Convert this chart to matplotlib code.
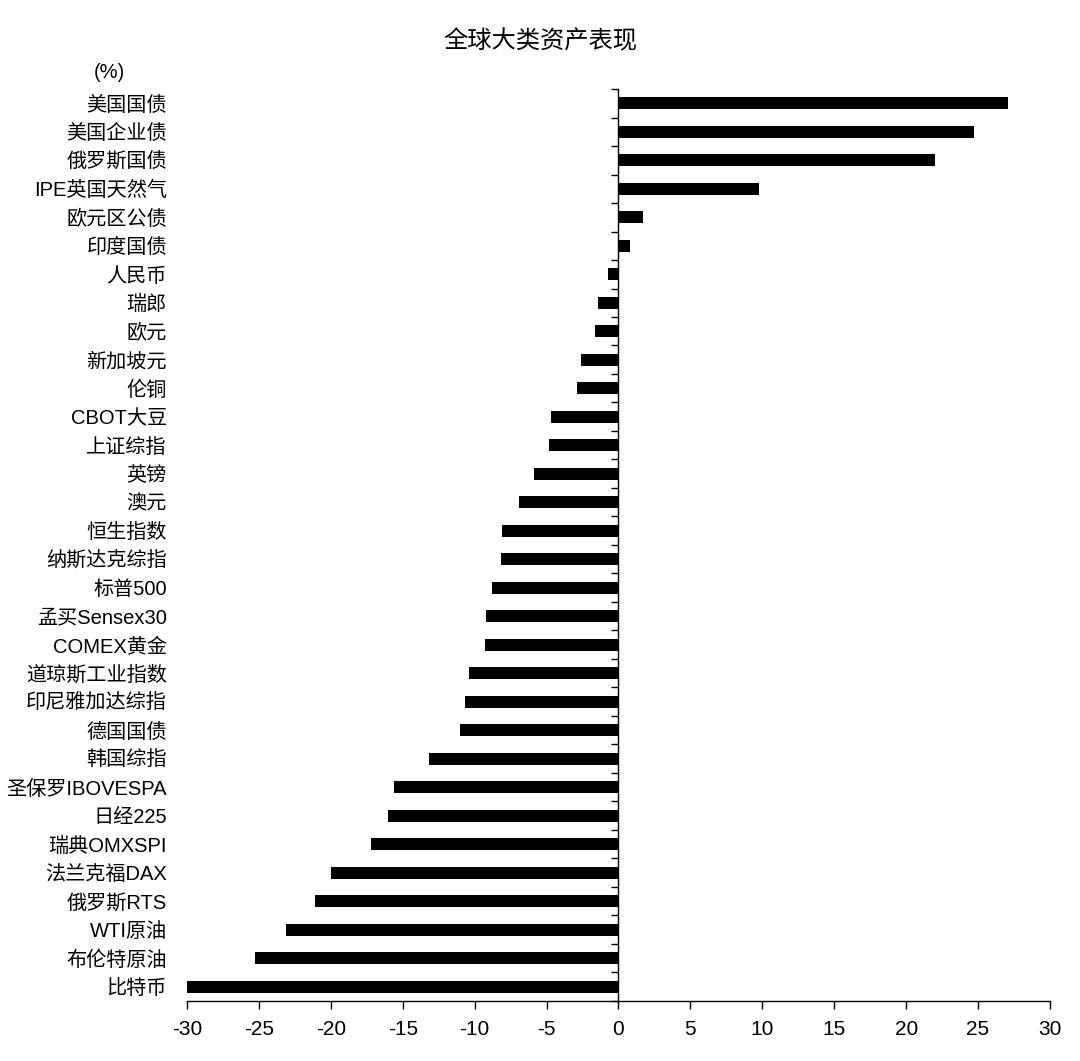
import numpy as np
import matplotlib
matplotlib.use('Agg')
import matplotlib.pyplot as plt

# asset names, top to bottom
assets = ['美国国债', '美国企业债', '俄罗斯国债', 'IPE英国天然气', '欧元区公债', '印度国债',
          '人民币', '瑞郎', '欧元', '新加坡元', '伦铜', 'CBOT大豆', '上证综指', '英镑', '澳元',
          '恒生指数', '纳斯达克综指', '标普500', '孟买Sensex30', 'COMEX黄金', '道琼斯工业指数',
          '印尼雅加达综指', '德国国债', '韩国综指', '圣保罗IBOVESPA', '日经225', '瑞典OMXSPI',
          '法兰克福DAX', '俄罗斯RTS', 'WTI原油', '布伦特原油', '比特币']
# returns (%)
returns = [27.1, 24.7, 22.0, 9.8, 1.7, 0.8,
           -0.7, -1.4, -1.6, -2.6, -2.9, -4.7, -4.8, -5.9, -6.9,
           -8.1, -8.15, -8.8, -9.2, -9.3, -10.4,
           -10.7, -11.0, -13.2, -15.6, -16.0, -17.2,
           -20.0, -21.1, -23.1, -25.3, -30.0]
xticks = list(range(-30, 31, 5))

fonts = ['Liberation Sans', 'Noto Sans CJK SC', 'DejaVu Sans']
plt.rcParams['font.family'] = fonts

fig = plt.figure(figsize=(10.8, 10.61), dpi=100)
ax = fig.add_axes([0.1731, 0.0566, 0.7991, 0.8595])

y = np.arange(len(assets))
ax.barh(y, returns, height=0.42, color='black', linewidth=0)

ax.set_xlim(-30, 30)
ax.set_ylim(len(assets) - 0.5, -0.5)
ax.set_xticks(xticks)
ax.set_xticklabels([str(t) for t in xticks])

# vertical axis line sits at 0, names stay on the left
ax.spines['top'].set_visible(False)
ax.spines['left'].set_visible(False)
ax.spines['right'].set_position(('data', 0))
ax.spines['right'].set_linewidth(1.0)
ax.spines['bottom'].set_linewidth(1.0)

ax.set_yticks(y)
ax.set_yticklabels(assets)
ax.set_yticks(np.arange(len(assets) + 1) - 0.5, minor=True)
ax.tick_params(axis='y', which='major', left=False, right=False,
               labelleft=True, labelright=False, labelsize=14.5, pad=11)
ax.tick_params(axis='y', which='minor', left=False, right=True,
               direction='in', length=5, width=1)
ax.tick_params(axis='x', which='major', direction='out', length=6, width=1,
               labelsize=15, pad=8)

fig.text(0.5, 1 - 42 / 1061, '全球大类资产表现', ha='center', va='center', fontsize=17.5)
fig.text(109 / 1080, 1 - 73 / 1061, '(%)', ha='center', va='center', fontsize=14.5)

fig.savefig('out.png', dpi=100)
